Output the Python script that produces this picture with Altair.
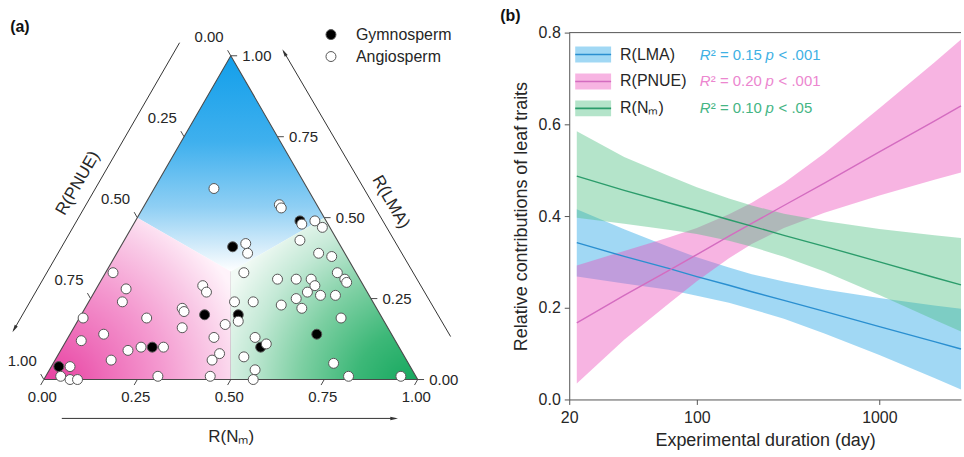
import math
import altair as alt
import pandas as pd

H = math.sqrt(3) / 2.0

# ---------------- panel (a): ternary composition, R(PNUE) = 1 - R(Nm) - R(LMA)
gym_nm = [0.02, 0.24, 0.33, 0.30, 0.42, 0.53, 0.44, 0.66]
gym_lma = [0.04, 0.10, 0.20, 0.41, 0.20, 0.10, 0.49, 0.14]

ang_nm = [0.16, 0.36, 0.37, 0.45, 0.48, 0.51, 0.47, 0.33, 0.35, 0.37,
          0.54, 0.58, 0.62, 0.65, 0.66, 0.47, 0.52, 0.56, 0.58, 0.57,
          0.61, 0.65, 0.55, 0.58, 0.52, 0.70, 0.75, 0.81, 0.95, 0.39,
          0.44, 0.28, 0.30, 0.26, 0.27, 0.43, 0.40, 0.29, 0.39, 0.50,
          0.54, 0.42, 0.43, 0.50, 0.55, 0.44, 0.56, 0.02, 0.08, 0.09,
          0.01, 0.18, 0.04, 0.09, 0.18, 0.21, 0.27, 0.15, 0.05, 0.04,
          0.07, 0.09, 0.30]
ang_lma = [0.59, 0.54, 0.53, 0.48, 0.49, 0.47, 0.43, 0.42, 0.39, 0.33,
           0.39, 0.38, 0.33, 0.31, 0.30, 0.31, 0.31, 0.31, 0.29, 0.27,
           0.26, 0.26, 0.25, 0.22, 0.23, 0.19, 0.05, 0.01, 0.01, 0.24,
           0.24, 0.29, 0.27, 0.22, 0.21, 0.18, 0.17, 0.16, 0.13, 0.13,
           0.11, 0.06, 0.08, 0.07, 0.03, 0.01, 0.00, 0.33, 0.28, 0.24,
           0.19, 0.19, 0.12, 0.14, 0.09, 0.10, 0.10, 0.06, 0.04, 0.01,
           0.00, 0.00, 0.01]

groups = ["Gymnosperm", "Angiosperm"]
tern_ticks = [0.0, 0.25, 0.5, 0.75, 1.0]
tern_labels = ["0.00", "0.25", "0.50", "0.75", "1.00"]

# ---------------- panel (b): fitted lines and confidence bands
days = [22, 40, 70, 100, 150, 200, 300, 500, 1000, 2000, 2800]
lma_fit = [0.342, 0.312, 0.286, 0.268, 0.249, 0.235, 0.216, 0.192, 0.159, 0.126, 0.110]
lma_lo = [0.268, 0.253, 0.239, 0.226, 0.211, 0.197, 0.176, 0.144, 0.097, 0.047, 0.022]
lma_hi = [0.415, 0.371, 0.333, 0.310, 0.288, 0.273, 0.257, 0.240, 0.221, 0.205, 0.198]
pnue_fit = [0.167, 0.227, 0.281, 0.316, 0.356, 0.384, 0.423, 0.472, 0.540, 0.607, 0.640]
pnue_lo = [0.035, 0.130, 0.209, 0.258, 0.308, 0.339, 0.374, 0.407, 0.445, 0.479, 0.495]
pnue_hi = [0.292, 0.324, 0.353, 0.374, 0.404, 0.429, 0.472, 0.537, 0.635, 0.735, 0.785]
nm_fit = [0.487, 0.456, 0.429, 0.412, 0.392, 0.378, 0.358, 0.334, 0.300, 0.266, 0.250]
nm_lo = [0.396, 0.383, 0.370, 0.361, 0.346, 0.333, 0.311, 0.279, 0.228, 0.174, 0.148]
nm_hi = [0.585, 0.529, 0.488, 0.463, 0.438, 0.423, 0.405, 0.389, 0.372, 0.358, 0.352]

traits = ["R(LMA)", "R(PNUE)", "R(Nₘ)"]
r2_text = ["0.15", "0.20", "0.10"]
p_text = ["< .001", "< .001", "< .05"]

FONT = "Liberation Sans"
TXT = "#262626"
EDGE = "#4a4a4a"

# =============== panel (a) ===============
W_A, H_A = 470, 457
PX = 375.0            # pixels per unit side of the triangle
X0, Y0 = 44.0, 380.0  # pixel position of the bottom-left vertex
xs = alt.Scale(domain=[-X0 / PX, (W_A - X0) / PX], nice=False, zero=False)
ys = alt.Scale(domain=[(Y0 - H_A) / PX, Y0 / PX], nice=False, zero=False)


def AX(f):
    return alt.X(f, scale=xs, axis=None)


def AY(f):
    return alt.Y(f, scale=ys, axis=None)


def stops(cols):
    return [alt.GradientStop(offset=o, color=c) for o, c in cols]


pink_df = pd.DataFrame({"x": [0.0, 0.25, 0.5], "y": [0.0, H / 2, H / 3], "y2": [0.0, 0.0, 0.0]})
green_df = pd.DataFrame({"x": [0.5, 0.75, 1.0], "y": [H / 3, H / 2, 0.0], "y2": [0.0, 0.0, 0.0]})
blue_df = pd.DataFrame({"x": [0.25, 0.5, 0.75], "y": [H / 2, H, H / 2], "y2": [H / 2, H / 3, H / 2]})

pink = alt.Chart(pink_df).mark_area(
    fill=alt.RadialGradient(gradient="radial", x1=0, y1=1, r1=0, x2=0, y2=1, r2=1.15,
                            stops=stops([(0, "#e6369b"), (0.3, "#ee6db9"), (0.55, "#f498cf"),
                                         (0.8, "#f9c9e6"), (1, "#fff3fa")]))
).encode(x=AX("x:Q"), y=AY("y:Q"), y2="y2:Q")

green = alt.Chart(green_df).mark_area(
    fill=alt.RadialGradient(gradient="radial", x1=1, y1=1, r1=0, x2=1, y2=1, r2=1.15,
                            stops=stops([(0, "#0fa55a"), (0.3, "#3db878"), (0.55, "#7ccfa2"),
                                         (0.8, "#c4e9d6"), (1, "#f2faf5")]))
).encode(x=AX("x:Q"), y=AY("y:Q"), y2="y2:Q")

blue = alt.Chart(blue_df).mark_area(
    fill=alt.LinearGradient(gradient="linear", x1=0.5, y1=0, x2=0.5, y2=1,
                            stops=stops([(0, "#139fea"), (0.4, "#3fb0ee"), (0.7, "#8fcff4"),
                                         (0.88, "#d2ebfa"), (1, "#ffffff")]))
).encode(x=AX("x:Q"), y=AY("y:Q"), y2="y2:Q")

tri_df = pd.DataFrame({"x": [0.0, 1.0, 0.5, 0.0], "y": [0.0, 0.0, H, 0.0], "o": [0, 1, 2, 3]})
outline = alt.Chart(tri_df).mark_line(color=EDGE, strokeWidth=1.1).encode(
    x=AX("x:Q"), y=AY("y:Q"), order="o:Q")

# ticks on the three sides
d = 0.017
tk = []
for v in tern_ticks:
    tk.append((v, 0.0, v - 0.5 * d, -H * d))                           # R(Nm), bottom
    tk.append((1 - v / 2, v * H, 1 - v / 2 + d, v * H))                # R(LMA), right
    tk.append(((1 - v) / 2, (1 - v) * H, (1 - v) / 2 - 0.5 * d, (1 - v) * H + H * d))  # R(PNUE), left
tick_df = pd.DataFrame(tk, columns=["x", "y", "x2", "y2"])
ticks = alt.Chart(tick_df).mark_rule(color=EDGE, strokeWidth=1).encode(
    x=AX("x:Q"), y=AY("y:Q"), x2="x2:Q", y2="y2:Q")

lab_c = []
for v, s in zip(tern_ticks, tern_labels):
    lab_c.append((v - 0.004, -0.046, s))
    lab_c.append(((1 - v) / 2 - 0.058, (1 - v) * H + 0.049, s))
labc_df = pd.DataFrame(lab_c, columns=["x", "y", "t"])
labels_c = alt.Chart(labc_df).mark_text(fontSize=15, color=TXT, align="center", baseline="middle").encode(
    x=AX("x:Q"), y=AY("y:Q"), text="t:N")
labr_df = pd.DataFrame({"x": [1 - v / 2 + 0.031 for v in tern_ticks],
                        "y": [v * H for v in tern_ticks], "t": tern_labels})
labels_r = alt.Chart(labr_df).mark_text(fontSize=15, color=TXT, align="left", baseline="middle").encode(
    x=AX("x:Q"), y=AY("y:Q"), text="t:N")

# arrows along the sides
arrows = [((0.048, -0.104), (0.949, -0.104)),
          ((1.088, 0.115), (0.637, 0.885)),
          ((0.363, 0.901), (-0.085, 0.125))]
ar, heads = [], []
for (sx, sy), (ex, ey) in arrows:
    ln = math.hypot(ex - sx, ey - sy)
    ux, uy = (ex - sx) / ln, (ey - sy) / ln
    ar.append((sx, sy, ex - 0.008 * ux, ey - 0.008 * uy))
    heads.append((ex - 0.012 * ux, ey - 0.012 * uy, (math.degrees(math.atan2(ux, uy)) + 360) % 360))
arrow_df = pd.DataFrame(ar, columns=["x", "y", "x2", "y2"])
head_df = pd.DataFrame(heads, columns=["x", "y", "a"])
arrow_lines = alt.Chart(arrow_df).mark_rule(color="#333333", strokeWidth=1).encode(
    x=AX("x:Q"), y=AY("y:Q"), x2="x2:Q", y2="y2:Q")
arrow_heads = alt.Chart(head_df).mark_point(
    shape="M0,-1L0.45,1L-0.45,1Z", filled=True, size=60, color="#333333", opacity=1
).encode(x=AX("x:Q"), y=AY("y:Q"), angle=alt.Angle("a:Q", scale=None))

title_df = pd.DataFrame({"x": [0.501, 0.928, 0.091], "y": [-0.155, 0.475, 0.525],
                         "t": ["R(Nₘ)", "R(LMA)", "R(PNUE)"], "a": [0, 60, 300]})
tern_titles = alt.Chart(title_df).mark_text(fontSize=17, color=TXT, align="center", baseline="middle").encode(
    x=AX("x:Q"), y=AY("y:Q"), text="t:N", angle=alt.Angle("a:Q", scale=None))

tag_a = alt.Chart(pd.DataFrame({"x": [-0.064], "y": [0.944], "t": ["(a)"]})).mark_text(
    fontSize=16, fontWeight="bold", color="#111111", align="center", baseline="middle").encode(
    x=AX("x:Q"), y=AY("y:Q"), text="t:N")

pts = pd.DataFrame({
    "nm": gym_nm + ang_nm,
    "lma": gym_lma + ang_lma,
    "group": [groups[0]] * len(gym_nm) + [groups[1]] * len(ang_nm),
})
pts["x"] = pts["nm"] + pts["lma"] / 2.0
pts["y"] = pts["lma"] * H
points = alt.Chart(pts).mark_circle(size=100, opacity=1, stroke="#555555", strokeWidth=1).encode(
    x=AX("x:Q"), y=AY("y:Q"),
    fill=alt.Fill("group:N", scale=alt.Scale(domain=groups, range=["#000000", "#ffffff"]),
                  legend=alt.Legend(title=None, orient="none", legendX=324, legendY=26,
                                    labelFontSize=16, labelColor=TXT, symbolType="circle",
                                    symbolSize=100, symbolStrokeColor="#555555", symbolStrokeWidth=1,
                                    symbolOpacity=1, rowPadding=6, labelOffset=17, padding=0)))

left = alt.layer(blue, pink, green, outline, ticks, labels_c, labels_r, arrow_lines, arrow_heads,
                 tern_titles, tag_a, points).properties(width=W_A, height=H_A)

# =============== panel (b) ===============
W_B, H_B, Y_TOP = 393, 400, 32
DEC = W_B / math.log10(2800 / 20)


def day_at(px):
    return 20 * 10 ** (px / DEC)


def val_at(py):
    return 0.8 * (H_B - py) / (H_B - Y_TOP)


band_colors = ["#1ea1e5", "#eb4db9", "#4dbf81"]
line_colors = ["#2a8fd0", "#d46cc0", "#2b9c6b"]
stat_colors = ["#3fb1e4", "#ec86cf", "#45b584"]

rows = []
for tr, fit, lo, hi in zip(traits, [lma_fit, pnue_fit, nm_fit], [lma_lo, pnue_lo, nm_lo], [lma_hi, pnue_hi, nm_hi]):
    for dd, f, l, h in zip(days, fit, lo, hi):
        rows.append((tr, dd, f, l, h))
bdf = pd.DataFrame(rows, columns=["trait", "day", "fit", "lo", "hi"])

xsb = alt.Scale(type="log", domain=[20, 2800], nice=False)
ysb = alt.Scale(domain=[0, 0.8], range=[H_B, Y_TOP], nice=False, zero=False)
x_axis = alt.Axis(values=[20, 100, 1000], format="d", title="Experimental duration (day)",
                  labelFontSize=16, titleFontSize=18, titleFontWeight="normal", labelColor=TXT,
                  titleColor=TXT, domainColor="#555555", tickColor="#555555", tickSize=5,
                  labelPadding=5, titlePadding=6, grid=False, labelFlush=False)
y_axis = alt.Axis(values=[0, 0.2, 0.4, 0.6, 0.8], format=".1f", title="Relative contributions of leaf traits",
                  labelFontSize=16, titleFontSize=18, titleFontWeight="normal", labelColor=TXT,
                  titleColor=TXT, domainColor="#555555", tickColor="#555555", tickSize=5,
                  labelPadding=4, titlePadding=8, grid=False)


def BX(field=None, datum=None):
    if datum is not None:
        return alt.XDatum(datum, scale=xsb, axis=x_axis)
    return alt.X(field, scale=xsb, axis=x_axis)


def BY(field=None, datum=None):
    if datum is not None:
        return alt.YDatum(datum, scale=ysb, axis=y_axis)
    return alt.Y(field, scale=ysb, axis=y_axis)


bands = alt.Chart(bdf).mark_area(opacity=0.42).encode(
    x=BX("day:Q"), y=BY("lo:Q"), y2="hi:Q",
    fill=alt.Fill("trait:N", scale=alt.Scale(domain=traits, range=band_colors), legend=None))
lines = alt.Chart(bdf).mark_line(strokeWidth=1.4).encode(
    x=BX("day:Q"), y=BY("fit:Q"),
    stroke=alt.Stroke("trait:N", scale=alt.Scale(domain=traits, range=line_colors), legend=None))
top_rule = alt.Chart(pd.DataFrame({"y": [0.8]})).mark_rule(color="#555555", strokeWidth=1).encode(
    x=BX(datum=20), x2=alt.X2Datum(2800), y=BY("y:Q"))

row_px = [54, 81, 108]
leg = pd.DataFrame({
    "trait": traits,
    "r2": ["² = " + s for s in r2_text],
    "pv": p_text,
    "R": ["R"] * 3,
    "pp": ["p"] * 3,
    "ly": [val_at(v) for v in row_px],
    "lyt": [val_at(v - 8) for v in row_px],
    "lyb": [val_at(v + 8) for v in row_px],
    "band": band_colors,
    "line": line_colors,
    "stat": stat_colors,
})
sw_rect = alt.Chart(leg).mark_rect(opacity=0.42).encode(
    x=BX(datum=day_at(6)), x2=alt.X2Datum(day_at(42)),
    y=BY("lyt:Q"), y2="lyb:Q",
    color=alt.Color("band:N", scale=None))
sw_line = alt.Chart(leg).mark_rule(strokeWidth=1.6).encode(
    x=BX(datum=day_at(6)), x2=alt.X2Datum(day_at(42)),
    y=BY("ly:Q"),
    color=alt.Color("line:N", scale=None))


def leg_text(px, field, size, italic=False, colored=True):
    kw = dict(align="left", baseline="middle", fontSize=size)
    if italic:
        kw["fontStyle"] = "italic"
    enc = dict(x=BX(datum=day_at(px)), y=BY("ly:Q"), text=f"{field}:N")
    if colored:
        enc["color"] = alt.Color("stat:N", scale=None)
    else:
        kw["color"] = TXT
    return alt.Chart(leg).mark_text(**kw).encode(**enc)


leg_lab = leg_text(51, "trait", 16, colored=False)
leg_R = leg_text(131, "R", 15, italic=True)
leg_r2 = leg_text(142, "r2", 15)
leg_p = leg_text(197, "pp", 15, italic=True)
leg_pv = leg_text(210, "pv", 15)

tag_b = alt.Chart(pd.DataFrame({"t": ["(b)"]})).mark_text(
    fontSize=16, fontWeight="bold", color="#111111", align="center", baseline="middle").encode(
    x=BX(datum=day_at(-59)), y=BY(datum=val_at(15)), text="t:N")

right = alt.layer(bands, lines, top_rule, sw_rect, sw_line, leg_lab, leg_R, leg_r2, leg_p, leg_pv,
                  tag_b).properties(width=W_B, height=H_B)

chart = alt.hconcat(left, right, spacing=101, bounds="flush").resolve_scale(
    fill="independent", stroke="independent", color="independent"
).resolve_legend(fill="independent", stroke="independent", color="independent").properties(
    padding=0, background="white").configure(font=FONT).configure_view(stroke=None)

chart.save("out.html", embed_options={"renderer": "svg", "actions": False})
